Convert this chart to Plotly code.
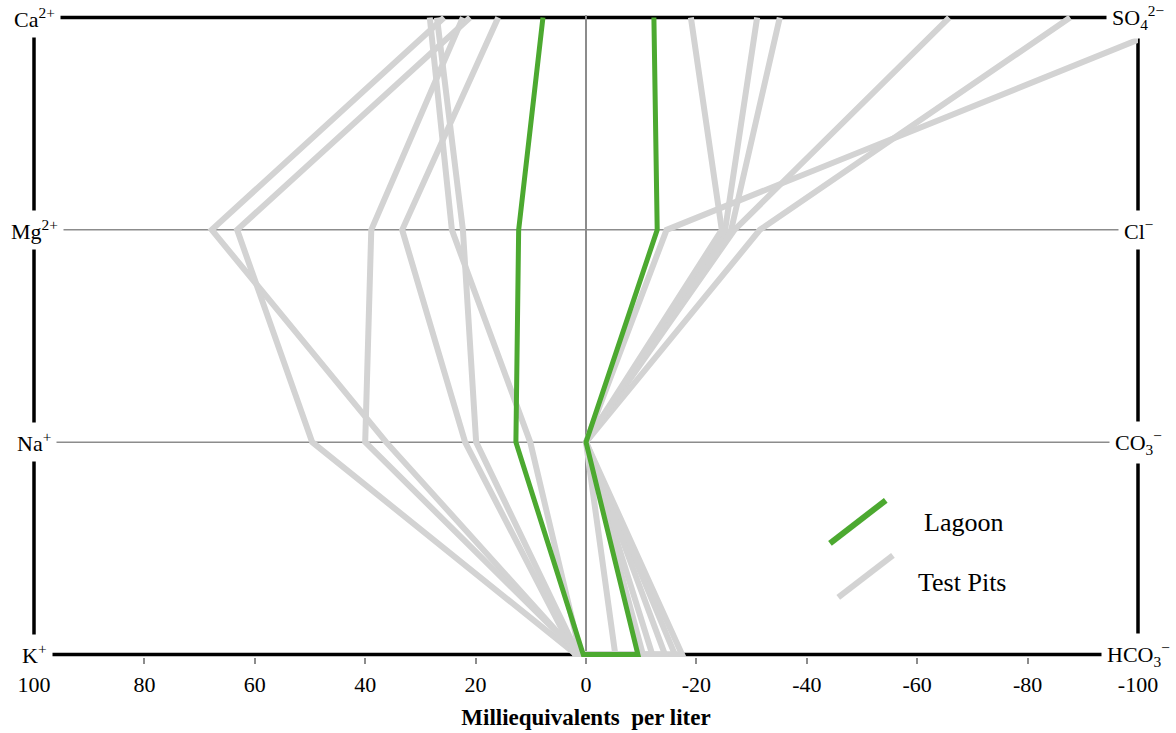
import plotly.graph_objects as go

# ---------------- data ----------------
cation_labels = ["Ca<sup>2+</sup>", "Mg<sup>2+</sup>", "Na<sup>+</sup>", "K<sup>+</sup>"]
anion_labels = ["SO<sub>4</sub><sup>2−</sup>", "Cl<sup>−</sup>", "CO<sub>3</sub><sup>−</sup>", "HCO<sub>3</sub><sup>−</sup>"]
ion_rows = [3, 2, 1, 0]  # Ca/SO4, Mg/Cl, Na/CO3, K/HCO3

# Lagoon (meq/L): cations Ca, Mg, Na, K ; anions SO4, Cl, CO3, HCO3
lagoon_cations = [7.8, 12.2, 12.7, 0.5]
lagoon_anions = [12.3, 12.9, 0.0, 9.4]

# Test pits (meq/L)
pit_ca = [25.7, 21.0, 22.3, 15.9, 28.3, 27.0]
pit_mg = [67.8, 63.2, 38.9, 33.3, 24.3, 22.3]
pit_na = [36.2, 49.6, 40.0, 21.9, 10.1, 19.9]
pit_k = [1.5, 1.8, 1.2, 2.0, 1.0, 1.4]
pit_so4 = [110.0, 87.7, 65.8, 35.1, 31.0, 19.0]
pit_cl = [14.6, 31.5, 26.9, 26.3, 25.2, 24.6]
pit_co3 = [0.0, 0.0, 0.0, 0.0, 0.0, 0.0]
pit_hco3 = [17.4, 16.1, 14.3, 12.0, 10.3, 5.3]

tick_values = [100, 80, 60, 40, 20, 0, -20, -40, -60, -80, -100]
tick_labels = ["100", "80", "60", "40", "20", "0", "-20", "-40", "-60", "-80", "-100"]

legend_names = ["Lagoon", "Test Pits"]

# ---------------- styling ----------------
FONT = "Times New Roman, Liberation Serif, serif"
GREEN = "#4CA930"
GREY = "#D3D3D3"
GRID = "#8C8C8C"


def stiff_path(cations, anions):
    xs = list(cations) + [-a for a in reversed(anions)]
    ys = list(ion_rows) + list(reversed(ion_rows))
    return xs, ys


fig = go.Figure()

for i in range(len(pit_ca)):
    xs, ys = stiff_path([pit_ca[i], pit_mg[i], pit_na[i], pit_k[i]],
                        [pit_so4[i], pit_cl[i], pit_co3[i], pit_hco3[i]])
    fig.add_trace(go.Scatter(x=xs, y=ys, mode="lines",
                             line=dict(color=GREY, width=6),
                             name=legend_names[1], showlegend=False,
                             hoverinfo="skip"))

xs, ys = stiff_path(lagoon_cations, lagoon_anions)
fig.add_trace(go.Scatter(x=xs, y=ys, mode="lines",
                         line=dict(color=GREEN, width=5),
                         name=legend_names[0], showlegend=False,
                         hoverinfo="skip"))

shapes = []
# horizontal ion rows
for r in ion_rows:
    thick = r in (ion_rows[0], ion_rows[-1])
    shapes.append(dict(type="line", xref="x", yref="y", x0=100, x1=-100, y0=r, y1=r,
                       line=dict(color="black" if thick else GRID, width=3.5 if thick else 1.5),
                       layer="below"))
# vertical side bars
for px in (0, 1):
    shapes.append(dict(type="line", xref="paper", yref="y", x0=px, x1=px,
                       y0=ion_rows[-1], y1=ion_rows[0],
                       line=dict(color="black", width=3.5), layer="below"))

# legend glyphs (slanted lines)
shapes.append(dict(type="line", xref="x", yref="y", x0=-44.2, y0=0.523, x1=-54.3, y1=0.726,
                   line=dict(color=GREEN, width=6)))
shapes.append(dict(type="line", xref="x", yref="y", x0=-45.7, y0=0.269, x1=-55.6, y1=0.467,
                   line=dict(color=GREY, width=6)))

annotations = []
for r, lab in zip(ion_rows, cation_labels):
    annotations.append(dict(x=100, y=r, xref="x", yref="y", text=lab, showarrow=False,
                            xanchor="center", yanchor="middle", bgcolor="white", borderpad=5,
                            font=dict(family=FONT, size=22, color="black")))
for r, lab in zip(ion_rows, anion_labels):
    annotations.append(dict(x=-100, y=r, xref="x", yref="y", text=lab, showarrow=False,
                            xanchor="center", yanchor="middle", bgcolor="white", borderpad=5,
                            font=dict(family=FONT, size=22, color="black")))
annotations.append(dict(x=-68.3, y=0.622, xref="x", yref="y", text=legend_names[0],
                        showarrow=False, font=dict(family=FONT, size=26, color="black")))
annotations.append(dict(x=-68.2, y=0.339, xref="x", yref="y", text=legend_names[1],
                        showarrow=False, font=dict(family=FONT, size=26, color="black")))

fig.update_layout(
    width=1176, height=733,
    margin=dict(l=34, r=38, t=15, b=76, autoexpand=False),
    paper_bgcolor="white", plot_bgcolor="white",
    shapes=shapes, annotations=annotations,
    showlegend=False,
    xaxis=dict(range=[100, -100], tickmode="array", tickvals=tick_values, ticktext=tick_labels,
               automargin=False,
               showgrid=False, zeroline=True, zerolinecolor=GRID, zerolinewidth=1.5,
               showline=False, ticks="outside", ticklen=6, tickwidth=1.5, tickcolor=GRID,
               ticklabelstandoff=2,
               tickfont=dict(family=FONT, size=22, color="black"),
               title=dict(text="<b>Milliequivalents  per liter</b>", standoff=12,
                          font=dict(family=FONT, size=23, color="black"))),
    yaxis=dict(range=[-0.012, 3.012], visible=False, showgrid=False, zeroline=False,
               automargin=False),
)

fig.write_html("out.html", config={"displayModeBar": False},
               post_script="document.body.style.margin='0';document.body.style.overflow='hidden';")
